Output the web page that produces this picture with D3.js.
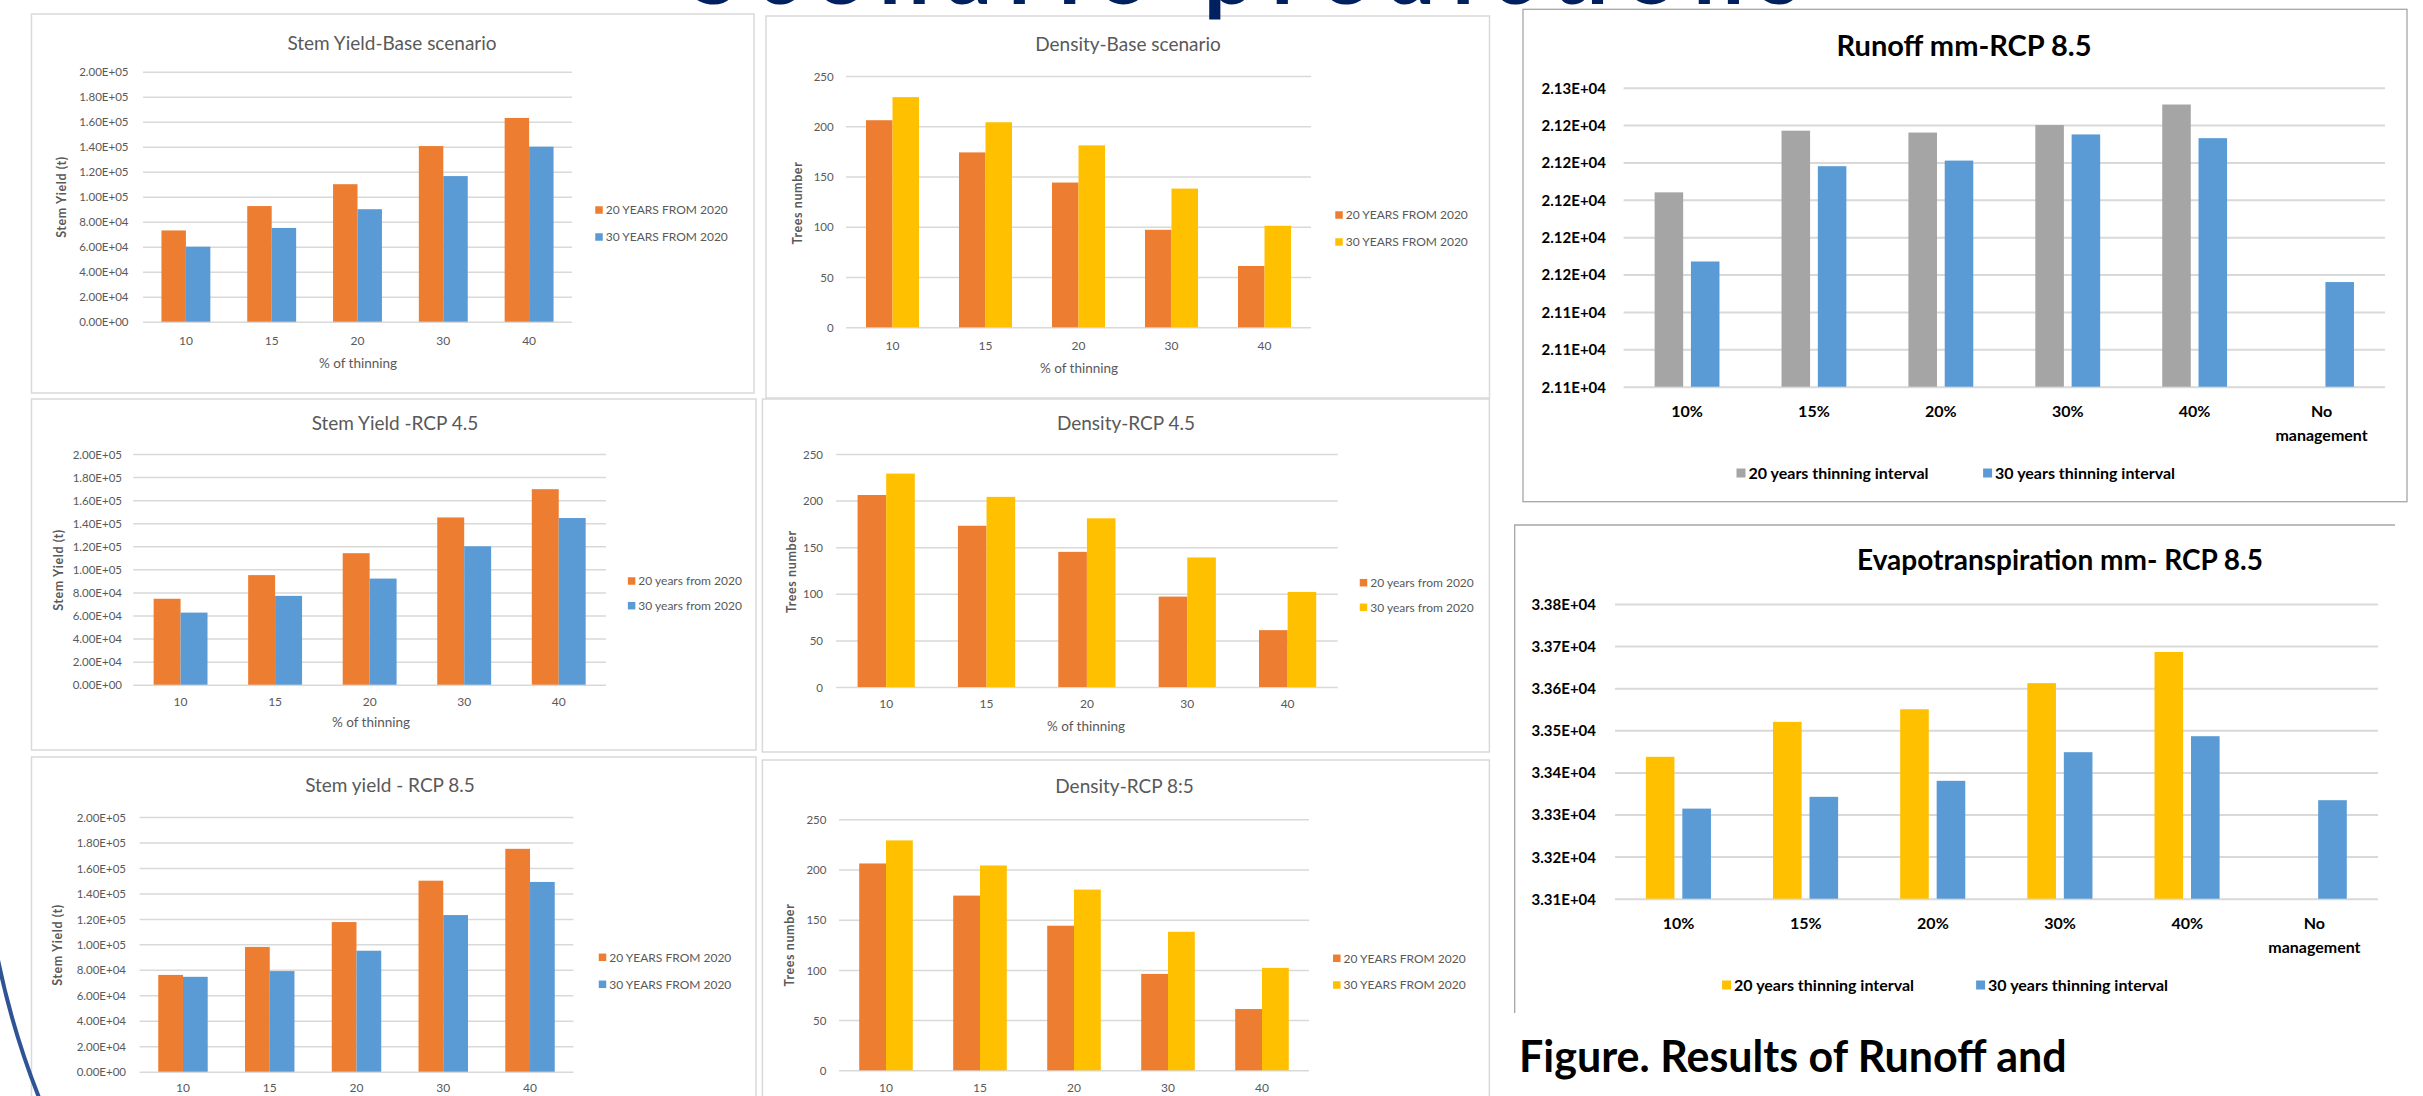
<!DOCTYPE html>
<html>
<head>
<meta charset="utf-8">
<script src="https://cdn.jsdelivr.net/npm/d3@7/dist/d3.min.js"></script>
<style>
  body { margin: 0; background: #fff; }
  svg { display: block; }
  text { font-family: Lato, "Open Sans", sans-serif; }
</style>
</head>
<body>
<div id="chart"></div>
<script>
// ---- data ----
var thinning = ["10", "15", "20", "30", "40"];
var stemTicks = [0, 20000, 40000, 60000, 80000, 100000, 120000, 140000, 160000, 180000, 200000];
var densTicks = [0, 50, 100, 150, 200, 250];

var stemBase20 = [73000, 92500, 110000, 140500, 163000];
var stemBase30 = [60000, 75000, 90000, 116500, 140000];
var densBase20 = [206, 174, 144, 97, 61];
var densBase30 = [229, 204, 181, 138, 101];

var stem45_20 = [74500, 95000, 114000, 145000, 169500];
var stem45_30 = [62500, 77000, 92000, 120000, 144500];
var dens45_20 = [206, 173, 145, 97, 61];
var dens45_30 = [229, 204, 181, 139, 102];

var stem85_20 = [76000, 98000, 117500, 150000, 175000];
var stem85_30 = [74500, 79000, 95000, 123000, 149000];
var dens85_20 = [206, 174, 144, 96, 61];
var dens85_30 = [229, 204, 180, 138, 102];

var hydroCats = ["10%", "15%", "20%", "30%", "40%", "No management"];
var runoffTicks = [21100, 21120, 21140, 21160, 21180, 21200, 21220, 21240, 21260];
var runoff20 = [21204, 21237, 21236, 21240, 21251, null];
var runoff30 = [21167, 21218, 21221, 21235, 21233, 21156];
var evapoTicks = [33100, 33200, 33300, 33400, 33500, 33600, 33700, 33800];
var evapo20 = [33437, 33520, 33550, 33612, 33686, null];
var evapo30 = [33314, 33342, 33380, 33448, 33486, 33334];

var orange = "#ed7d31", blue = "#5b9bd5", yellow = "#ffc000", grey = "#a5a5a5";

var width = 2423, height = 1096;

var svg = d3.select("#chart").append("svg")
    .attr("width", width)
    .attr("height", height);

svg.append("rect").attr("width", width).attr("height", height).attr("fill", "#fff");

// excel style 2.00E+05
function sci(v) {
    var p = v.toExponential(2).split("e");
    var e = +p[1];
    return p[0] + "E" + (e < 0 ? "-" : "+") + String(Math.abs(e)).padStart(2, "0");
}

function panel(o) {
    var g = svg.append("g");

    if (o.frame) {
        g.append("rect")
            .attr("x", o.frame[0]).attr("y", o.frame[1])
            .attr("width", o.frame[2]).attr("height", o.frame[3])
            .attr("fill", "#fff")
            .attr("stroke", o.frameColor || "#d9d9d9")
            .attr("stroke-width", o.frameW || 1.5);
    }

    var x = d3.scaleBand().domain(o.cats).range([o.left, o.right]);
    var y = d3.scaleLinear().domain([o.ticks[0], o.ticks[o.ticks.length - 1]]).range([o.bottom, o.top]);
    var bw = x.bandwidth();

    // gridlines
    var grid = g.append("g")
        .attr("transform", "translate(" + o.left + ",0)")
        .call(d3.axisLeft(y).tickValues(o.ticks).tickSize(-(o.right - o.left)).tickFormat(""));
    grid.select(".domain").remove();
    grid.selectAll("line").attr("stroke", "#d9d9d9").attr("stroke-width", o.gridW || 1.5);

    // y tick labels
    var ax = g.append("g")
        .attr("transform", "translate(" + o.labelX + ",0)")
        .call(d3.axisLeft(y).tickValues(o.ticks).tickSize(0).tickPadding(0).tickFormat(o.fmt))
        .attr("font-family", null).attr("font-size", null);
    ax.select(".domain").remove();
    ax.selectAll("text")
        .attr("fill", o.textColor)
        .attr("font-size", o.tickFs)
        .attr("font-weight", o.bold ? "bold" : "normal")
        .attr("dy", "0.36em");

    // bars
    o.series.forEach(function (s, i) {
        g.append("g").selectAll("rect")
            .data(s.values.map(function (v, j) { return { c: o.cats[j], v: v }; })
                .filter(function (d) { return d.v != null; }))
            .enter().append("rect")
            .attr("x", function (d) { return x(d.c) + bw / 2 + (o.offsets[i] - o.barW / 2) * bw; })
            .attr("width", o.barW * bw)
            .attr("y", function (d) { return y(d.v); })
            .attr("height", function (d) { return y(o.ticks[0]) - y(d.v); })
            .attr("fill", s.color);
    });

    // category labels
    var xl = g.append("g").selectAll("text")
        .data(o.cats)
        .enter().append("text")
        .attr("x", function (d) { return x(d) + bw / 2; })
        .attr("y", o.xLabelY)
        .attr("text-anchor", "middle")
        .attr("fill", o.textColor)
        .attr("font-size", o.catFs)
        .attr("font-weight", o.bold ? "bold" : "normal");
    xl.each(function (d) {
        var words = d.split(" ");
        var t = d3.select(this);
        words.forEach(function (w, k) {
            t.append("tspan").attr("x", x(d) + bw / 2).attr("dy", k ? o.lineH : 0).text(w);
        });
    });

    // titles
    g.append("text")
        .attr("x", o.title.x).attr("y", o.title.y)
        .attr("text-anchor", "middle")
        .attr("fill", o.titleColor || o.textColor)
        .attr("font-size", o.title.fs)
        .attr("font-weight", o.bold ? "bold" : "normal")
        .text(o.title.text);

    if (o.yTitle) {
        g.append("text")
            .attr("transform", "translate(" + o.yTitle.x + "," + o.yTitle.y + ") rotate(-90)")
            .attr("text-anchor", "middle")
            .attr("dy", "0.35em")
            .attr("fill", o.textColor)
            .attr("font-size", 12.5)
            .attr("font-weight", "bold")
            .attr("letter-spacing", 0.6)
            .text(o.yTitle.text);
    }
    if (o.xTitle) {
        g.append("text")
            .attr("x", o.xTitle.x).attr("y", o.xTitle.y)
            .attr("text-anchor", "middle")
            .attr("fill", o.textColor)
            .attr("font-size", 13.5)
            .text(o.xTitle.text);
    }

    // legend
    o.series.forEach(function (s, i) {
        var p = o.legendPos[i];
        g.append("rect")
            .attr("x", p[0] - o.sq / 2).attr("y", p[1] - o.sq / 2)
            .attr("width", o.sq).attr("height", o.sq)
            .attr("fill", s.color);
        g.append("text")
            .attr("x", p[0] + o.sq / 2 + 3).attr("y", p[1])
            .attr("dy", "0.36em")
            .attr("fill", o.textColor)
            .attr("font-size", o.legFs)
            .attr("font-weight", o.bold ? "bold" : "normal")
            .text(s.name);
    });
}

var left = {
    cats: thinning, fmt: null, textColor: "#595959", tickFs: 11.5, catFs: 12, legFs: 12,
    barW: 0.285, offsets: [-0.1425, 0.1425], sq: 7.5, gridW: 1.5
};

function leftPanel(extra) {
    panel(Object.assign({}, left, extra));
}

// Stem yield - base
leftPanel({
    frame: [31.5, 14, 722.5, 379],
    left: 143, right: 572, top: 71.7, bottom: 321.7, labelX: 128.5,
    ticks: stemTicks, fmt: sci,
    title: { text: "Stem Yield-Base scenario", x: 392, y: 50, fs: 19 },
    yTitle: { text: "Stem Yield  (t)", x: 62, y: 197 },
    xTitle: { text: "% of thinning", x: 358, y: 368 },
    xLabelY: 345,
    series: [
        { name: "20 YEARS FROM 2020", values: stemBase20, color: orange },
        { name: "30 YEARS FROM 2020", values: stemBase30, color: blue }
    ],
    legendPos: [[599, 210], [599, 237]]
});

// Density - base
leftPanel({
    frame: [766, 16, 723.5, 382],
    left: 846, right: 1311, top: 76, bottom: 327.3, labelX: 833.7,
    ticks: densTicks, fmt: d3.format("d"),
    title: { text: "Density-Base scenario", x: 1128, y: 51, fs: 19 },
    yTitle: { text: "Trees number", x: 798, y: 203 },
    xTitle: { text: "% of thinning", x: 1079, y: 373 },
    xLabelY: 350,
    series: [
        { name: "20 YEARS FROM 2020", values: densBase20, color: orange },
        { name: "30 YEARS FROM 2020", values: densBase30, color: yellow }
    ],
    legendPos: [[1339, 215], [1339, 242]]
});

// Stem yield - RCP 4.5
leftPanel({
    frame: [31.5, 399, 724.5, 351],
    left: 133.3, right: 606, top: 454, bottom: 684.7, labelX: 122,
    ticks: stemTicks, fmt: sci,
    title: { text: "Stem Yield -RCP 4.5", x: 395, y: 430, fs: 19 },
    yTitle: { text: "Stem Yield (t)", x: 59, y: 570 },
    xTitle: { text: "% of thinning", x: 371, y: 727 },
    xLabelY: 706,
    series: [
        { name: "20 years from 2020", values: stem45_20, color: orange },
        { name: "30 years from 2020", values: stem45_30, color: blue }
    ],
    legendPos: [[631.6, 581], [631.6, 605.7]]
});

// Density - RCP 4.5
leftPanel({
    frame: [762.4, 399, 727, 353],
    left: 836, right: 1337.8, top: 454, bottom: 687, labelX: 823,
    ticks: densTicks, fmt: d3.format("d"),
    title: { text: "Density-RCP 4.5", x: 1126, y: 430, fs: 19 },
    yTitle: { text: "Trees number", x: 791.5, y: 571.7 },
    xTitle: { text: "% of thinning", x: 1086, y: 731 },
    xLabelY: 708,
    series: [
        { name: "20 years from 2020", values: dens45_20, color: orange },
        { name: "30 years from 2020", values: dens45_30, color: yellow }
    ],
    legendPos: [[1363.5, 582.7], [1363.5, 607.3]]
});

// Stem yield - RCP 8.5 (its bottom runs off the slide)
leftPanel({
    frame: [31.5, 757, 724.5, 360],
    left: 139.6, right: 573.4, top: 817, bottom: 1071.7, labelX: 126,
    ticks: stemTicks, fmt: sci,
    title: { text: "Stem yield - RCP 8.5", x: 390, y: 792, fs: 19 },
    yTitle: { text: "Stem Yield (t)", x: 58, y: 945 },
    xLabelY: 1092,
    series: [
        { name: "20 YEARS FROM 2020", values: stem85_20, color: orange },
        { name: "30 YEARS FROM 2020", values: stem85_30, color: blue }
    ],
    legendPos: [[602.5, 957.3], [602.5, 984.3]]
});

// Density - RCP 8:5
leftPanel({
    frame: [762.4, 760, 727, 360],
    left: 839, right: 1309, top: 819.3, bottom: 1070.3, labelX: 826.4,
    ticks: densTicks, fmt: d3.format("d"),
    title: { text: "Density-RCP 8:5", x: 1124.5, y: 793, fs: 19 },
    yTitle: { text: "Trees number", x: 790, y: 945 },
    xLabelY: 1092,
    series: [
        { name: "20 YEARS FROM 2020", values: dens85_20, color: orange },
        { name: "30 YEARS FROM 2020", values: dens85_30, color: yellow }
    ],
    legendPos: [[1336.8, 958.3], [1336.8, 985]]
});

// Runoff
panel({
    cats: hydroCats, textColor: "#000", titleColor: "#000", bold: true,
    tickFs: 15, catFs: 16, legFs: 16, lineH: 23.5,
    barW: 0.225, offsets: [-0.143, 0.143], sq: 9, gridW: 2,
    frame: [1523, 9.3, 884, 492.4], frameColor: "#a6a6a6", frameW: 1.3,
    left: 1623.6, right: 2385, top: 87.7, bottom: 386.7, labelX: 1606,
    ticks: runoffTicks, fmt: sci,
    title: { text: "Runoff mm-RCP 8.5", x: 1964, y: 56, fs: 29 },
    xLabelY: 417,
    series: [
        { name: "20 years thinning interval", values: runoff20, color: grey },
        { name: "30 years thinning interval", values: runoff30, color: blue }
    ],
    legendPos: [[1741, 473], [1987.6, 473]]
});

// Evapotranspiration
svg.append("path")
    .attr("d", "M1514.7,1013 V525 H2395")
    .attr("fill", "none")
    .attr("stroke", "#a6a6a6")
    .attr("stroke-width", 1.3);

panel({
    cats: hydroCats, textColor: "#000", titleColor: "#000", bold: true,
    tickFs: 15, catFs: 16, legFs: 16, lineH: 23.5,
    barW: 0.225, offsets: [-0.145, 0.142], sq: 9, gridW: 2,
    left: 1615, right: 2378, top: 604, bottom: 898.7, labelX: 1596,
    ticks: evapoTicks, fmt: sci,
    title: { text: "Evapotranspiration mm- RCP 8.5", x: 2060, y: 570, fs: 28 },
    xLabelY: 929,
    series: [
        { name: "20 years thinning interval", values: evapo20, color: yellow },
        { name: "30 years thinning interval", values: evapo30, color: blue }
    ],
    legendPos: [[1726.6, 985], [1980.6, 985]]
});

// caption under the hydrology charts
svg.append("text")
    .attr("x", 1519).attr("y", 1072)
    .attr("font-size", 43)
    .attr("font-weight", "bold")
    .attr("fill", "#000")
    .text("Figure. Results of Runoff and");

// slide decoration: arc on the left edge
svg.append("path")
    .attr("d", "M-3,955 Q12,1030 40,1100")
    .attr("fill", "none")
    .attr("stroke", "#2f5496")
    .attr("stroke-width", 4);

// slide heading, mostly cut off at the top
svg.append("text")
    .attr("x", 690).attr("y", 4)
    .attr("font-size", 90)
    .attr("font-weight", "bold")
    .attr("fill", "#002060")
    .attr("textLength", 1110)
    .text("Scenario predictions");
</script>
</body>
</html>
